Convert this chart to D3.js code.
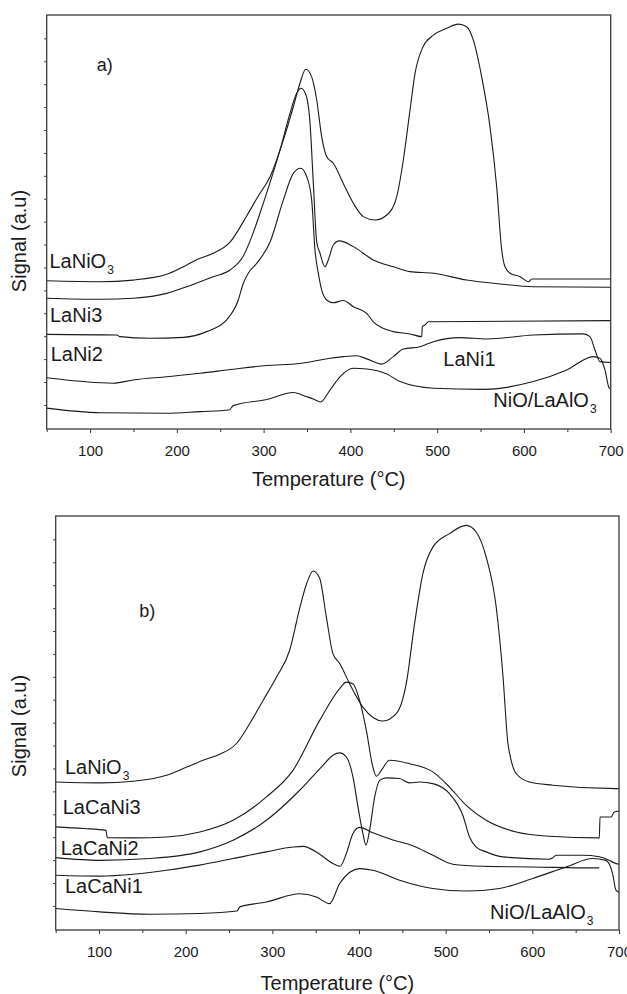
<!DOCTYPE html>
<html>
<head>
<meta charset="utf-8">
<script src="https://cdn.jsdelivr.net/npm/d3@7"></script>
<style>
  html, body { margin: 0; padding: 0; background: #fff; }
  svg { display: block; }
  text { font-family: "Liberation Sans", Arial, Helvetica, sans-serif; fill: #1a1a1a; }
</style>
</head>
<body>
<svg id="chart" width="627" height="994"></svg>
<script>
// ---------------- DATA ----------------
// x: Temperature (°C), y: Signal (a.u), arbitrary units (ticks at integers)
const xDomain = [50, 700];
const yDomain = [-1.05, 17.02];
const xMajorTicks = [100, 200, 300, 400, 500, 600, 700];
const xMinorTicks = [50, 150, 250, 350, 450, 550, 650];
const yTicks = [0, 1, 2, 3, 4, 5, 6, 7, 8, 9, 10, 11, 12, 13, 14, 15, 16];
const xTitle = "Temperature (°C)";
const yTitle = "Signal (a.u)";

// Panel a) series
const aLaNiO3 = [[50,5.42],[111.4,5.38],[149.5,5.45],[188.3,5.70],[211.4,6.11],[226.7,6.40],[242,6.62],[261.3,7.11],[280.5,8.25],[293.5,9.1],[307.4,9.96],[322.7,11.56],[334.2,13.01],[341.9,14.04],[348.5,14.65],[355.4,14.32],[361.2,13.31],[366.9,11.71],[372.7,10.83],[380.3,10.55],[391.8,9.67],[403.4,8.80],[414.9,8.22],[428.4,8.07],[441.9,8.29],[453.4,9.09],[461,10.69],[468.7,12.87],[474.5,14.47],[483.7,15.63],[495.6,16.14],[511,16.44],[524.4,16.62],[534,16.51],[541.7,15.92],[551.3,14.32],[560.9,12.14],[568.6,9.52],[574.4,6.76],[578.2,6.03],[584,5.75],[595.5,5.60],[605,5.38],[609.2,5.50],[700,5.50]];
const aLaNi3 = [[50,4.66],[111.4,4.61],[149.5,4.66],[188.3,4.87],[211.4,5.16],[242,5.60],[261.3,5.89],[276.6,6.5],[284.3,7.15],[299.6,8.80],[318.9,11.13],[330.4,12.73],[338.1,13.60],[343.1,13.82],[348.8,13.53],[353.5,12.29],[357.3,9.67],[361.2,7.11],[365,6.62],[370.7,6.03],[374.5,6.33],[380.3,6.98],[387.2,7.16],[403.4,6.91],[426.4,6.33],[449.5,6.03],[468.7,5.82],[495.6,5.75],[534,5.45],[572.4,5.28],[610.8,5.16],[700,5.14]];
const aLaNi2 = [[50,3.08],[130.7,3.05],[134.5,2.98],[169.1,2.91],[207.4,2.95],[234.4,3.20],[257.4,3.71],[270.8,4.58],[276.6,5.31],[282.3,5.75],[292,6.18],[307.4,7.11],[322.7,8.94],[334.2,10.11],[342.7,10.33],[349.7,9.96],[355.4,8.94],[359.2,6.76],[363,5.75],[366.9,5.02],[372.7,4.58],[380.3,4.46],[391.8,4.56],[403.4,4.29],[418.8,4.00],[426.4,3.63],[449.5,3.20],[468.7,3.10],[482.2,2.98],[482.9,3.42],[486,3.49],[489.8,3.63],[700,3.68]];
const aLaNi1 = [[50,1.19],[92.2,1.02],[126.8,0.95],[149.8,1.09],[188.3,1.23],[226.7,1.38],[265,1.56],[303.6,1.72],[341.9,1.81],[376.5,2.04],[391.8,2.11],[407.3,2.15],[418.8,2.01],[436.1,1.78],[449.5,2.11],[461,2.44],[480.2,2.54],[495.6,2.76],[526.3,2.94],[557.1,2.88],[610.8,3.05],[668.4,3.10],[676.1,2.98],[681.9,2.40],[687.6,1.89],[700,1.85]];
const aNiOLaAlO3 = [[50,-0.14],[111.4,-0.34],[188.3,-0.36],[226.7,-0.29],[260.4,-0.22],[265,-0.03],[303.6,0.24],[334.2,0.54],[349.7,0.36],[357.3,0.26],[365.6,0.13],[376.5,0.65],[388,1.23],[403.4,1.60],[418.8,1.57],[441.9,1.35],[457.2,1.02],[495.6,0.73],[553.2,0.68],[610.8,1.02],[649.3,1.53],[680,2.11],[687.6,2.04],[693.4,1.53],[698.3,0.73],[700,0.70]];

// Panel b) series
const bLaNiO3 = [[50,5.41],[101.1,5.37],[139.4,5.44],[177.9,5.70],[201,6.06],[220.1,6.36],[239.4,6.62],[258.6,7.09],[273.9,7.96],[289.3,8.97],[304.7,9.98],[320,11.16],[331.6,13.0],[339.3,14.04],[347.1,14.62],[354.6,14.30],[362.3,12.61],[369.9,11.01],[377.7,10.58],[389.2,9.70],[404.5,8.68],[427.6,8.07],[443,8.39],[454.5,9.70],[464.1,12.32],[473.7,14.50],[485.2,15.66],[504.4,16.25],[523.7,16.61],[535.2,16.32],[546.7,15.23],[558.3,13.05],[565.9,10.14],[571.7,7.14],[575.5,6.36],[581.3,5.78],[596.6,5.41],[623.5,5.27],[696.5,5.12],[700,5.12]];
const bLaCaNi3 = [[50,3.45],[81.8,3.38],[108,3.30],[109.5,2.98],[139.4,2.97],[177.9,3.01],[216.3,3.23],[254.7,3.74],[293.2,4.76],[323.8,5.92],[354.6,8.10],[377.7,9.49],[385.4,9.77],[393,9.70],[400.7,8.97],[408.4,7.67],[416,6.06],[420,5.66],[425.7,5.92],[435.3,6.36],[458.3,6.21],[485.2,5.85],[504.4,5.19],[523.7,4.39],[546.7,3.74],[581.3,3.23],[619.7,3.04],[677.3,2.97],[678.1,3.88],[690.8,3.88],[694.6,4.10],[700,4.14]];
const bLaCaNi2 = [[50,2.11],[101.1,1.99],[158.7,2.07],[216.3,2.36],[254.7,2.87],[293.2,3.74],[331.6,5.05],[358.4,6.14],[369.9,6.58],[377.7,6.68],[385.4,6.50],[393,5.63],[398.8,4.32],[404.5,3.16],[408,2.65],[412.2,3.30],[418,4.74],[423.8,5.48],[431.5,5.59],[446.8,5.56],[458.3,5.37],[469.9,5.41],[485.2,5.34],[504.4,4.90],[519.8,3.96],[527.5,3.01],[535.2,2.57],[546.7,2.36],[565.9,2.14],[619.7,2.04],[623.5,2.10],[627.4,2.21],[658,2.21],[677.3,2.15],[688.8,1.99],[694.6,1.88],[700,1.82]];
const bLaCaNi1 = [[50,1.34],[101.1,1.30],[139.4,1.38],[177.9,1.56],[216.3,1.78],[254.7,2.07],[293.2,2.36],[323.8,2.57],[335.4,2.60],[354.6,2.26],[369.9,1.85],[378.2,1.73],[385.4,2.29],[393,3.16],[400.7,3.43],[416,3.19],[439.1,2.88],[462.1,2.63],[485.2,2.21],[508.2,1.82],[542.8,1.73],[600.4,1.70],[669.6,1.66],[677.3,1.66]];
const bNiOLaAlO3 = [[50,-0.11],[101.1,-0.26],[158.7,-0.36],[216.3,-0.33],[259.3,-0.22],[262.4,-0.04],[293.2,0.17],[331.6,0.53],[350.8,0.39],[366.1,0.10],[377.7,0.98],[400.7,1.63],[416,1.56],[446.8,1.12],[485.2,0.76],[523.7,0.65],[562.1,0.76],[600.4,1.20],[638.9,1.70],[669.6,2.07],[685,1.99],[692.6,1.41],[696.5,0.69],[700,0.60]];

// Series labels: [text, subscript, T anchor, signal baseline]
const aLabels = [["LaNiO","3",53.2,5.96],["LaNi3","",53.8,3.63],["LaNi2","",54.6,1.93],["LaNi1","",507.1,1.70],["NiO/LaAlO","3",564.7,-0.07]];
const bLabels = [["LaNiO","3",60.7,5.78],["LaCaNi3","",58.1,4.03],["LaCaNi2","",55.8,2.21],["LaCaNi1","",60.7,0.58],["NiO/LaAlO","3",551.3,-0.55]];
const panelTags = [["a)",107.6,14.57],["b)",146.3,12.60]];

// ---------------- LAYOUT ----------------
const panels = [
  { left: 46.7, top: 15,  w: 564,   h: 414, series: [aLaNiO3, aLaNi3, aLaNi2, aLaNi1, aNiOLaAlO3], labels: aLabels, tag: panelTags[0], yTitleY: 241, xTitleDy: 57 },
  { left: 55.7, top: 516, w: 563.3, h: 414, series: [bLaNiO3, bLaCaNi3, bLaCaNi2, bLaCaNi1, bNiOLaAlO3], labels: bLabels, tag: panelTags[1], yTitleY: 726, xTitleDy: 59.5 }
];

const svg = d3.select("#chart");
svg.append("rect").attr("width", 627).attr("height", 994).attr("fill", "#fff");

panels.forEach(p => {
  const g = svg.append("g").attr("transform", `translate(${p.left},${p.top})`);
  const x = d3.scaleLinear().domain(xDomain).range([0, p.w]);
  const y = d3.scaleLinear().domain(yDomain).range([p.h, 0]);

  const line = d3.line().x(d => x(d[0])).y(d => y(d[1])).curve(d3.curveMonotoneX);
  p.series.forEach(s => {
    g.append("path").attr("d", line(s)).attr("fill", "none")
      .attr("stroke", "#1a1a1a").attr("stroke-width", 1.1).attr("stroke-linejoin", "round");
  });

  // Axes
  const xMaj = g.append("g").attr("transform", `translate(0,${p.h})`)
    .call(d3.axisBottom(x).tickValues(xMajorTicks).tickSize(4).tickPadding(12).tickFormat(d3.format("d")));
  const xMin = g.append("g").attr("transform", `translate(0,${p.h})`)
    .call(d3.axisBottom(x).tickValues(xMinorTicks).tickSize(3).tickFormat(""));
  const yAx = g.append("g")
    .call(d3.axisLeft(y).tickValues(yTicks).tickSize(2.5).tickFormat(""));
  [xMaj, xMin, yAx].forEach(a => {
    a.select(".domain").remove();
    a.selectAll("line").attr("stroke", "#333").attr("stroke-width", 1);
  });
  xMaj.selectAll("text").attr("font-size", 15).attr("fill", "#1a1a1a")
    .style("font-family", '"Liberation Sans", Arial, sans-serif');

  // Frame
  g.append("rect").attr("x", 0).attr("y", 0).attr("width", p.w).attr("height", p.h)
    .attr("fill", "none").attr("stroke", "#3a3a3a").attr("stroke-width", 1.3);

  // Series labels
  p.labels.forEach(([t, sub, tx, sy]) => {
    const txt = g.append("text").attr("x", x(tx)).attr("y", y(sy)).attr("font-size", 20);
    txt.append("tspan").text(t);
    if (sub) txt.append("tspan").attr("dy", 6).attr("font-size", 12).attr("dx", 1).text(sub);
  });

  // Panel tag
  g.append("text").attr("x", x(p.tag[1])).attr("y", y(p.tag[2])).attr("font-size", 18).text(p.tag[0]);

  // Axis titles
  g.append("text").attr("x", p.w / 2).attr("y", p.h + p.xTitleDy)
    .attr("text-anchor", "middle").attr("font-size", 20).text(xTitle);
  svg.append("text").attr("transform", `translate(26,${p.yTitleY}) rotate(-90)`)
    .attr("text-anchor", "middle").attr("font-size", 20).text(yTitle);
});
</script>
</body>
</html>
